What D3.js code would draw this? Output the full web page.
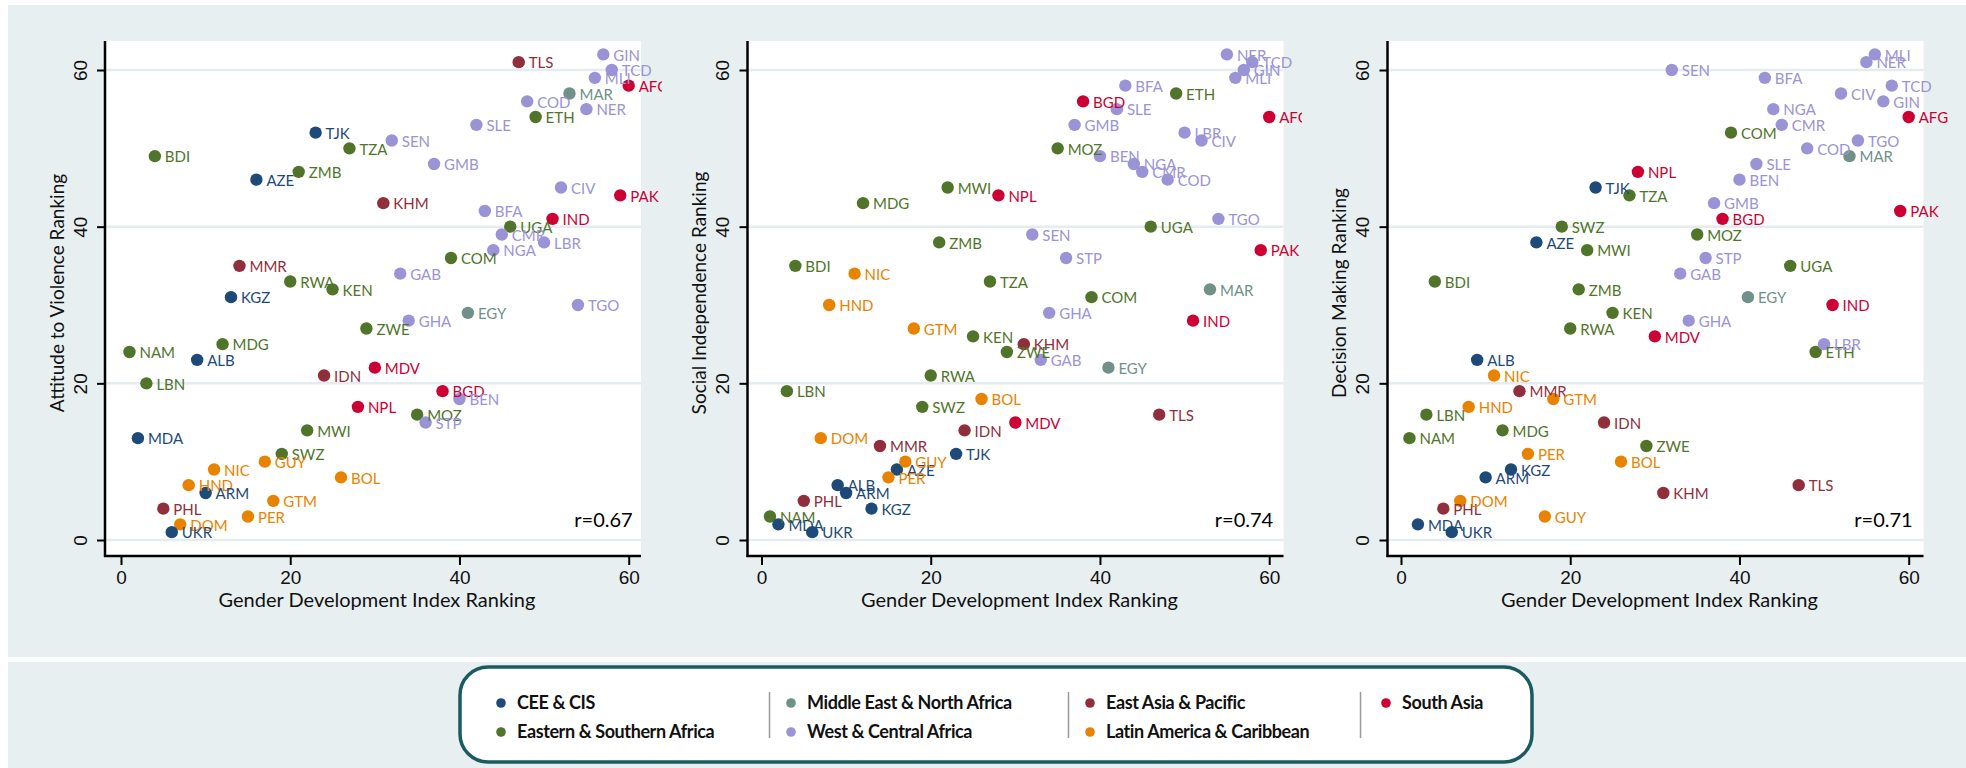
<!DOCTYPE html>
<html>
<head>
<meta charset="utf-8">
<script src="https://cdn.jsdelivr.net/npm/d3@7/dist/d3.min.js"></script>
<style>
  body { margin: 0; background: #ffffff; }
  svg { display: block; font-family: Lato, "Open Sans", sans-serif; }
</style>
</head>
<body>
<svg id="chart" width="1966" height="768"></svg>
<script>
// ---- data ----
const countries = ['GIN','TLS','TCD','MLI','AFG','MAR','COD','NER','ETH','SLE',
  'TJK','SEN','TZA','BDI','GMB','ZMB','AZE','CIV','PAK','KHM',
  'BFA','IND','UGA','CMR','LBR','NGA','COM','MMR','GAB','RWA',
  'KEN','KGZ','TGO','EGY','GHA','ZWE','MDG','NAM','ALB','MDV',
  'IDN','LBN','BGD','BEN','NPL','MOZ','STP','MWI','MDA','SWZ',
  'GUY','NIC','BOL','HND','ARM','GTM','PHL','PER','DOM','UKR'];

// region index into `regions`
const regionIdx = [3,4,3,3,6,2,3,3,1,3,
  0,3,1,1,3,1,0,3,6,4,
  3,6,1,3,3,3,1,4,3,1,
  1,0,3,2,3,1,1,1,0,6,
  4,1,6,3,6,1,3,1,0,1,
  5,5,5,5,0,5,4,5,5,0];

const gdiRank = [57,47,58,56,60,53,48,55,49,42,
  23,32,27,4,37,21,16,52,59,31,
  43,51,46,45,50,44,39,14,33,20,
  25,13,54,41,34,29,12,1,9,30,
  24,3,38,40,28,35,36,22,2,19,
  17,11,26,8,10,18,5,15,7,6];

const violenceRank = [62,61,60,59,58,57,56,55,54,53,
  52,51,50,49,48,47,46,45,44,43,
  42,41,40,39,38,37,36,35,34,33,
  32,31,30,29,28,27,25,24,23,22,
  21,20,19,18,17,16,15,14,13,11,
  10,9,8,7,6,5,4,3,2,1];

const independenceRank = [60,16,61,59,54,32,46,62,57,55,
  11,39,33,35,53,38,9,51,37,25,
  58,28,40,47,52,48,31,12,23,21,
  26,4,41,22,29,24,43,3,7,15,
  14,19,56,49,44,50,36,45,2,17,
  10,34,18,30,6,27,5,8,13,1];

const decisionRank = [56,7,58,62,54,49,50,61,24,48,
  45,60,44,33,43,32,38,57,42,6,
  59,30,35,53,25,55,52,19,34,27,
  29,9,51,31,28,12,14,13,23,26,
  15,16,41,46,47,39,36,37,2,40,
  3,21,10,17,8,18,4,11,5,1];

const regions = ['CEE & CIS','Eastern & Southern Africa','Middle East & North Africa',
  'West & Central Africa','East Asia & Pacific','Latin America & Caribbean','South Asia'];
const regionColors = ['#1d4a78','#50752a','#6f9188','#9a93d6','#902f3b','#e88300','#cc0033'];

const yTitles = ['Attitude to Violence Ranking','Social Independence Ranking','Decision Making Ranking'];
const corrLabels = ['r=0.67','r=0.74','r=0.71'];
const series = [violenceRank, independenceRank, decisionRank];
const tickValues = [0, 20, 40, 60];
const xTitle = 'Gender Development Index Ranking';

// ---- layout ----
const svg = d3.select('#chart');
const bg = '#e8eff1';
const plotTop = 41, plotBottom = 556, plotW = 536;
const panels = [
  { axisX: 105, zeroX: 121, clipL: 0, clipR: 662 },
  { axisX: 747.5, zeroX: 761.5, clipL: 662, clipR: 1302 },
  { axisX: 1387.5, zeroX: 1401, clipL: 1302, clipR: 1966 }
];

svg.append('rect').attr('x', 8).attr('y', 5).attr('width', 1958).attr('height', 652).attr('fill', bg);
svg.append('rect').attr('x', 8).attr('y', 662).attr('width', 1958).attr('height', 106).attr('fill', bg);

const y = d3.scaleLinear().domain([0, 60]).range([540, 70]);

const points = countries.map(function(c, i) {
  return { code: c, gdi: gdiRank[i], region: regionIdx[i], i: i };
});

panels.forEach(function(p, k) {
  const x = d3.scaleLinear().domain([0, 60]).range([p.zeroX, p.zeroX + 507.7]);
  const vals = series[k];

  svg.append('clipPath').attr('id', 'clip' + k)
    .append('rect').attr('x', p.clipL).attr('y', 0).attr('width', p.clipR - p.clipL).attr('height', 660);

  const g = svg.append('g').attr('clip-path', 'url(#clip' + k + ')');

  g.append('rect')
    .attr('x', p.axisX).attr('y', plotTop)
    .attr('width', plotW).attr('height', plotBottom - plotTop)
    .attr('fill', '#ffffff');

  // gridlines
  g.selectAll('.grid')
    .data(tickValues)
    .enter().append('line')
    .attr('x1', p.axisX).attr('x2', p.axisX + plotW)
    .attr('y1', function(d) { return y(d); })
    .attr('y2', function(d) { return y(d); })
    .attr('stroke', '#e4ecf0')
    .attr('stroke-width', 2.5);

  // y axis
  const yAxis = g.append('g')
    .attr('transform', 'translate(' + p.axisX + ',0)')
    .call(d3.axisLeft(y).tickValues(tickValues).tickSize(8).tickPadding(0));
  yAxis.select('.domain').remove();
  yAxis.selectAll('.tick text').remove();
  yAxis.selectAll('.tick line').attr('stroke', '#000').attr('stroke-width', 2);
  yAxis.selectAll('.tick').append('text')
    .attr('transform', 'translate(-25,0) rotate(-90)')
    .attr('text-anchor', 'middle')
    .attr('dy', '0.35em')
    .attr('fill', '#111')
    .style('font-size', '19px')
    .text(function(d) { return d; });

  // x axis
  const xAxis = g.append('g')
    .attr('transform', 'translate(0,' + plotBottom + ')')
    .call(d3.axisBottom(x).tickValues(tickValues).tickSize(9).tickPadding(6));
  xAxis.select('.domain').remove();
  xAxis.selectAll('.tick line').attr('stroke', '#000').attr('stroke-width', 2);
  xAxis.selectAll('.tick text')
    .attr('fill', '#111')
    .style('font-size', '19px');

  g.append('line')
    .attr('x1', p.axisX).attr('x2', p.axisX)
    .attr('y1', plotTop).attr('y2', plotBottom + 1)
    .attr('stroke', '#000').attr('stroke-width', 2.5);
  g.append('line')
    .attr('x1', p.axisX - 1).attr('x2', p.axisX + plotW)
    .attr('y1', plotBottom).attr('y2', plotBottom)
    .attr('stroke', '#000').attr('stroke-width', 2.5);

  // titles
  g.append('text')
    .attr('transform', 'translate(' + (p.axisX - 48) + ',293) rotate(-90)')
    .attr('text-anchor', 'middle')
    .attr('dy', '0.35em')
    .attr('fill', '#111')
    .style('font-size', '19px')
    .text(yTitles[k]);

  g.append('text')
    .attr('x', p.axisX + 272).attr('y', 607)
    .attr('text-anchor', 'middle')
    .attr('fill', '#111')
    .style('font-size', '20px')
    .text(xTitle);

  g.append('text')
    .attr('x', x(60) + 4).attr('y', y(2.6))
    .attr('dy', '0.35em')
    .attr('text-anchor', 'end')
    .attr('fill', '#000')
    .style('font-size', '20px')
    .text(corrLabels[k]);

  // markers + labels
  g.selectAll('.dot')
    .data(points)
    .enter().append('circle')
    .attr('cx', function(d) { return x(d.gdi); })
    .attr('cy', function(d) { return y(vals[d.i]); })
    .attr('r', 6.2)
    .attr('fill', function(d) { return regionColors[d.region]; });

  g.selectAll('.lbl')
    .data(points)
    .enter().append('text')
    .attr('x', function(d) { return x(d.gdi) + 10; })
    .attr('y', function(d) { return y(vals[d.i]) + 1; })
    .attr('dy', '0.35em')
    .attr('fill', function(d) { return regionColors[d.region]; })
    .style('font-size', '15px')
    .text(function(d) { return d.code; });
});

// ---- legend ----
const legend = svg.append('g');
legend.append('rect')
  .attr('x', 460).attr('y', 667)
  .attr('width', 1072).attr('height', 95)
  .attr('rx', 28).attr('ry', 28)
  .attr('fill', '#ffffff')
  .attr('stroke', '#1b5b60')
  .attr('stroke-width', 3.5);

const colX = [501, 791, 1090, 1386];
const rowY = [703, 732];
[769.5, 1068.5, 1360.5].forEach(function(sx) {
  legend.append('line')
    .attr('x1', sx).attr('x2', sx)
    .attr('y1', 692).attr('y2', 738)
    .attr('stroke', '#9a9a9a').attr('stroke-width', 1.5);
});

const items = legend.selectAll('.item')
  .data(regions)
  .enter().append('g')
  .attr('transform', function(d, i) {
    return 'translate(' + colX[Math.floor(i / 2)] + ',' + rowY[i % 2] + ')';
  });
items.append('circle')
  .attr('r', 4.8)
  .attr('fill', function(d, i) { return regionColors[i]; });
items.append('text')
  .attr('x', 16)
  .attr('dy', '0.35em')
  .attr('fill', '#111')
  .style('font-size', '18px')
  .style('font-weight', 'bold')
  .style('letter-spacing', '-0.4px')
  .text(function(d) { return d; });
</script>
</body>
</html>
